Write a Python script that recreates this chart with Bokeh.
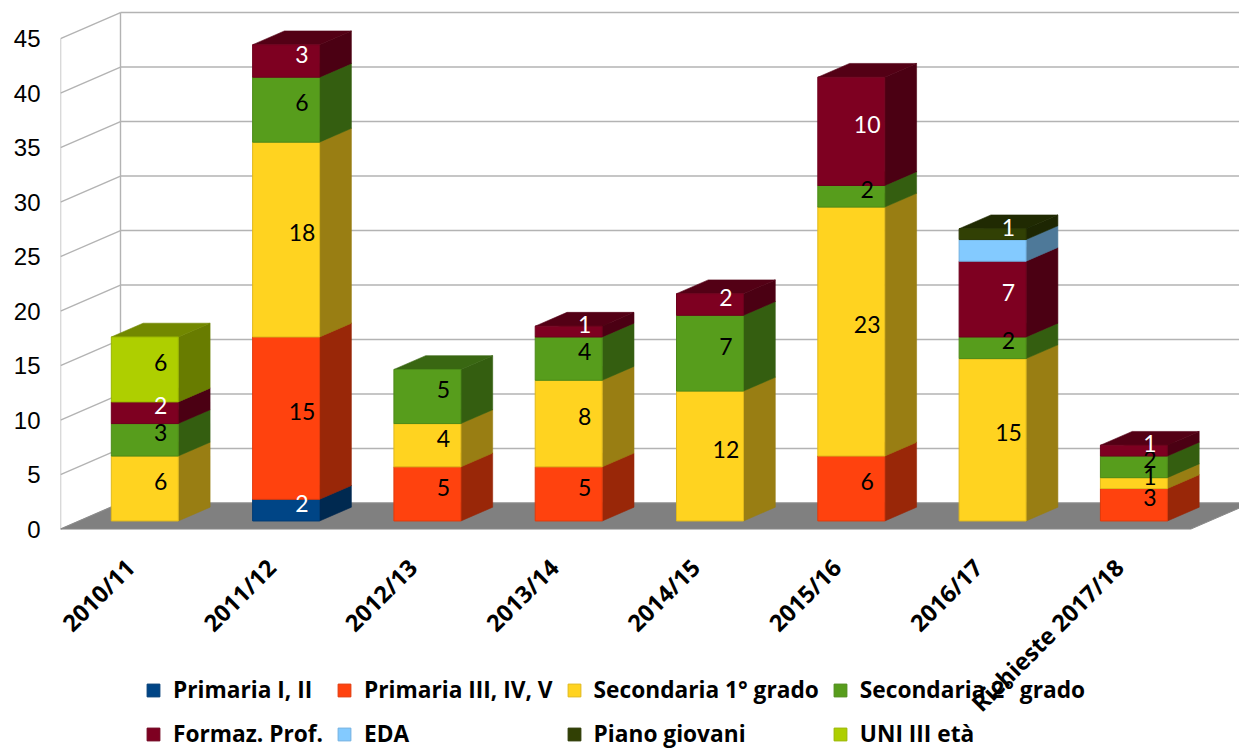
import numpy as np
from bokeh.plotting import figure
from bokeh.models import Range1d, FixedTicker, Legend, LegendItem
from bokeh.embed import file_html
from bokeh.resources import INLINE
from bokeh.core.properties import value

# ---------------- data ----------------
categories = ["2010/11", "2011/12", "2012/13", "2013/14", "2014/15",
              "2015/16", "2016/17", "Richieste 2017/18"]
series_names = ["Primaria I, II", "Primaria III, IV, V", "Secondaria 1° grado",
                "Secondaria 2° grado", "Formaz. Prof.", "EDA", "Piano giovani",
                "UNI III età"]
series_colors = ["#004586", "#ff420e", "#ffd320", "#579d1c",
                 "#7e0021", "#83caff", "#314004", "#aecf00"]
label_colors = ["white", "black", "black", "black", "white", None, "white", "black"]

primaria_1_2 = [0, 2, 0, 0, 0, 0, 0, 0]
primaria_3_5 = [0, 15, 5, 5, 0, 6, 0, 3]
secondaria_1 = [6, 18, 4, 8, 12, 23, 15, 1]
secondaria_2 = [3, 6, 5, 4, 7, 2, 2, 2]
formaz_prof = [2, 3, 0, 1, 2, 10, 7, 1]
eda = [0, 0, 0, 0, 0, 0, 2, 0]
piano_giovani = [0, 0, 0, 0, 0, 0, 1, 0]
uni_3_eta = [6, 0, 0, 0, 0, 0, 0, 0]
series_values = [primaria_1_2, primaria_3_5, secondaria_1, secondaria_2,
                 formaz_prof, eda, piano_giovani, uni_3_eta]
y_ticks = [0, 5, 10, 15, 20, 25, 30, 35, 40, 45]

# ---------------- 3D geometry (style) ----------------
DX = 0.4246      # full depth shift in category units
DY = 2.385       # full depth shift in value units
DF, DB = 0.31, 0.84   # bar front/back depth
HW = 0.237       # half bar width
SHIFT = -0.035   # bar horizontal offset
K = 0.993        # perspective shrink of bar heights


def shade(c, f):
    return "#%02x%02x%02x" % tuple(int(int(c[k:k + 2], 16) * f) for k in (1, 3, 5))


n_cat = len(categories)
p = figure(width=1239, height=751, output_backend="svg", toolbar_location=None,
           x_range=Range1d(0, 8.344), y_range=Range1d(-20.41, 48.49),
           x_axis_location=None, min_border_left=60, min_border_right=0,
           min_border_top=0, min_border_bottom=0)
p.outline_line_color = None
p.xgrid.visible = False
p.ygrid.visible = False

ax = p.yaxis[0]
ax.ticker = FixedTicker(ticks=y_ticks)
ax.axis_line_color = None
ax.major_tick_line_color = None
ax.minor_tick_line_color = None
ax.major_tick_out = 0
ax.major_label_standoff = 20
ax.major_label_text_font = "Liberation Sans"
ax.major_label_text_font_size = "24px"
ax.major_label_text_color = "black"

grid_col = "#b3b3b3"
ticks = np.array(y_ticks, dtype=float)
top = ticks.max()
# left wall gridlines
p.segment(x0=np.zeros_like(ticks), y0=ticks, x1=np.full_like(ticks, DX), y1=ticks + DY,
          line_color=grid_col, line_width=1.4)
# back wall gridlines
p.segment(x0=np.full_like(ticks, DX), y0=ticks + DY, x1=np.full_like(ticks, n_cat + DX),
          y1=ticks + DY, line_color=grid_col, line_width=1.4)
# vertical wall edges
p.segment(x0=[0, DX], y0=[0, DY], x1=[0, DX], y1=[top, top + DY],
          line_color=grid_col, line_width=1.4)
# floor
p.patch(x=[0, n_cat, n_cat + DX, DX], y=[0, 0, DY, DY], fill_color="#808080",
        line_color="#8a8a8a", line_width=1)

# ---------------- stacked 3D bars ----------------
bottoms = np.zeros(n_cat)
legend_items = []
lab_x, lab_y, lab_t, lab_c = [], [], [], []
dmid = (DF + DB) / 2
for s, vals in enumerate(series_values):
    vals = np.array(vals, dtype=float)
    col = series_colors[s]
    fx, fy, sx, sy, tx, ty = [], [], [], [], [], []
    for i in range(n_cat):
        v = vals[i]
        if v <= 0:
            continue
        b = bottoms[i] * K
        t = (bottoms[i] + v) * K
        c = i + 0.5 + SHIFT
        xl, xr = c - HW, c + HW
        fx.append([xl + DF * DX, xr + DF * DX, xr + DF * DX, xl + DF * DX])
        fy.append([b + DF * DY, b + DF * DY, t + DF * DY, t + DF * DY])
        sx.append([xr + DF * DX, xr + DB * DX, xr + DB * DX, xr + DF * DX])
        sy.append([b + DF * DY, b + DB * DY, t + DB * DY, t + DF * DY])
        tx.append([xl + DF * DX, xr + DF * DX, xr + DB * DX, xl + DB * DX])
        ty.append([t + DF * DY, t + DF * DY, t + DB * DY, t + DB * DY])
        if label_colors[s] is not None:
            lab_x.append(c + dmid * DX)
            lab_y.append((b + t) / 2 + dmid * DY)
            lab_t.append(str(int(v)))
            lab_c.append(label_colors[s])
    side_col = shade(col, 0.6)
    top_col = shade(col, 0.66)
    p.patches(xs=sx, ys=sy, fill_color=side_col, line_color=side_col, line_width=0.6)
    p.patches(xs=tx, ys=ty, fill_color=top_col, line_color=top_col, line_width=0.6)
    r = p.patches(xs=fx, ys=fy, fill_color=col, line_color=shade(col, 0.88),
                  line_width=1)
    legend_items.append(LegendItem(label=series_names[s], renderers=[r]))
    bottoms = bottoms + vals

p.text(x=lab_x, y=lab_y, text=lab_t, text_color=lab_c, text_align="center",
       text_baseline="middle", text_font=value("Lato"), text_font_size="23px")

# category labels
p.text(x=[i + 0.5 for i in range(n_cat)], y=[0] * n_cat, text=categories,
       angle=np.pi / 4, text_align="right", text_baseline="middle",
       x_offset=-1, y_offset=34, text_font=value("Open Sans"), text_font_style="bold",
       text_font_size="23.5px", text_color="black")

legend = Legend(items=legend_items, orientation="horizontal", ncols=4,
                location=(85, 2))
legend.background_fill_alpha = 0
legend.border_line_color = None
legend.label_text_font = "Open Sans"
legend.label_text_font_style = "bold"
legend.label_text_font_size = "22.7px"
legend.label_text_color = "black"
legend.glyph_width = 16
legend.glyph_height = 16
legend.label_standoff = 12
legend.label_height = 22
legend.spacing = 13
legend.padding = 0
legend.margin = 0
p.add_layout(legend, "center")

open("out.html", "w").write(file_html(p, INLINE))
